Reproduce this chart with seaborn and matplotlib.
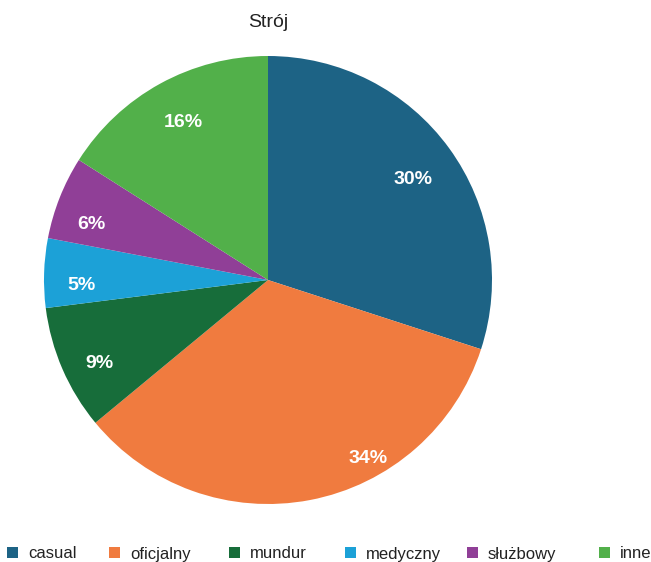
import matplotlib
matplotlib.use("Agg")
import numpy as np
import matplotlib.pyplot as plt
from matplotlib.patches import Rectangle
import seaborn as sns

categories = ["casual", "oficjalny", "mundur", "medyczny", "służbowy", "inne"]
shares = [30, 34, 9, 5, 6, 16]
colors = ["#1d6385", "#f07b3f", "#176d3a", "#1ca1d7", "#903f97", "#52b04a"]

# label placement inside each wedge: radius (fraction of pie radius) and
# angular shift in degrees (clockwise) from the wedge's middle
label_radius = [0.793, 0.902, 0.836, 0.833, 0.830, 0.809]
label_shift = [0.7, -18.9, -2.1, -2.6, -3.3, 0.9]

# left edge (px) of each legend swatch along the bottom row
legend_x = [7, 109, 229, 345, 467, 599]

sns.set_theme(style="white")
plt.rcParams["font.family"] = ["Liberation Sans", "DejaVu Sans"]

W, H = 651, 562
fig = plt.figure(figsize=(W / 100, H / 100), dpi=100)
cx, cy, r = 268, 280, 224
ax = fig.add_axes([(cx - r) / W, (H - cy - r) / H, 2 * r / W, 2 * r / H])

wedges, texts, autotexts = ax.pie(
    shares,
    colors=colors,
    startangle=90,
    counterclock=False,
    autopct=lambda p: f"{p:.0f}%",
    pctdistance=0.8,
    wedgeprops=dict(linewidth=0),
    textprops=dict(color="white", fontsize=14, fontweight="bold"),
)

# put each percentage where its glyphs sit centred on the chosen point
half_cap = 7.0 / r
total = float(sum(shares))
start = 0.0
for t, v, rad, sh in zip(autotexts, shares, label_radius, label_shift):
    mid = start + 360.0 * v / total / 2 + sh
    a = np.deg2rad(90 - mid)
    t.set_verticalalignment("baseline")
    t.set_position((rad * np.cos(a), rad * np.sin(a) - half_cap))
    start += 360.0 * v / total

ax.set_xlim(-1, 1)
ax.set_ylim(-1, 1)
ax.set_aspect("equal")
ax.axis("off")

fig.text(cx / W, 1 - 27 / H, "Strój", ha="center", va="baseline",
         fontsize=14, color="#222222")

# legend row: square swatch followed by its label
for x0, name, c in zip(legend_x, categories, colors):
    fig.patches.append(Rectangle((x0 / W, 1 - 557.5 / H), 11 / W, 10.5 / H,
                                 transform=fig.transFigure, facecolor=c,
                                 edgecolor="none"))
    fig.text((x0 + 21) / W, 1 - 558.5 / H, name, ha="left", va="baseline",
             fontsize=12, color="#222222")

fig.savefig("out.png", dpi=100, facecolor="white")
